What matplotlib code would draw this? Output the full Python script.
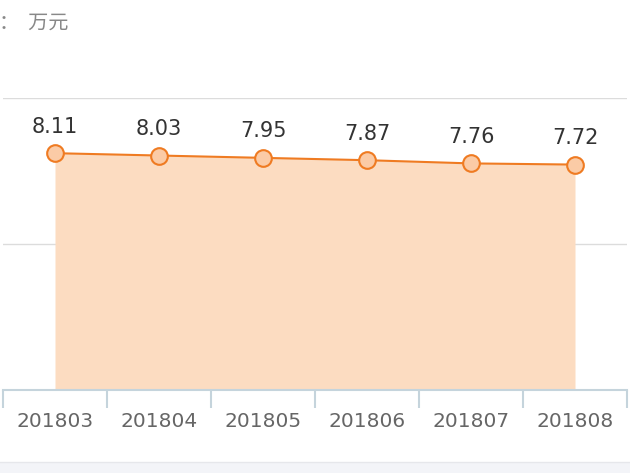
import matplotlib
matplotlib.use("Agg")
import matplotlib.pyplot as plt
import numpy as np

categories = ["201803", "201804", "201805", "201806", "201807", "201808"]
values = [8.11, 8.03, 7.95, 7.87, 7.76, 7.72]
unit_label = "：  万元"

plt.rcParams['font.family'] = ['Noto Sans CJK SC', 'DejaVu Sans']

fig = plt.figure(figsize=(6.3, 4.73), dpi=100)
ax = fig.add_axes([3/630, 83/473, 624/630, 292/473])

x = np.arange(len(categories))
ax.fill_between(x, values, 0, color="#fcdcc1", zorder=1, linewidth=0)
ax.plot(x, values, color="#ef7b22", linewidth=1.5, zorder=3,
        marker="o", markersize=12, markerfacecolor="#fbcba6",
        markeredgecolor="#ef7b22", markeredgewidth=1.5, clip_on=False)
for xi, v in zip(x, values):
    ax.annotate(f"{v:.2f}", (xi, v), xytext=(0, 12), textcoords="offset points",
                ha="center", va="bottom", fontsize=15, color="#333333",
                family=['DejaVu Sans'])

ax.set_xlim(-0.5, len(categories) - 0.5)
ax.set_ylim(0, 10)
ax.set_yticks([5, 10])
ax.yaxis.grid(True, color="#dcdcdc", linewidth=1)
ax.set_axisbelow(True)
ax.tick_params(axis="y", left=False, labelleft=False)

ax.set_xticks(x)
ax.set_xticklabels(categories, fontsize=14.5, color="#666666", family=['DejaVu Sans'])
ax.tick_params(axis="x", which="major", length=0, pad=16)
ax.set_xticks(np.arange(-0.5, len(categories)), minor=True)
ax.tick_params(axis="x", which="minor", length=13, color="#c5d4dc", width=1.5)

for s in ["top", "right", "left"]:
    ax.spines[s].set_visible(False)
ax.spines["bottom"].set_color("#c5d4dc")
ax.spines["bottom"].set_linewidth(1.5)

fig.text(-1/630, 1 - 23/473, unit_label, fontsize=14.5, color="#888888",
         ha="left", va="center")

# bottom band
fig.patches.append(plt.Rectangle((0, 0), 1, 11/473, transform=fig.transFigure,
                                 facecolor="#f3f4f8", edgecolor="none"))
fig.add_artist(plt.Line2D([0, 1], [11/473, 11/473], transform=fig.transFigure,
                          color="#e6e7eb", linewidth=1))

fig.savefig("out.png", dpi=100)
